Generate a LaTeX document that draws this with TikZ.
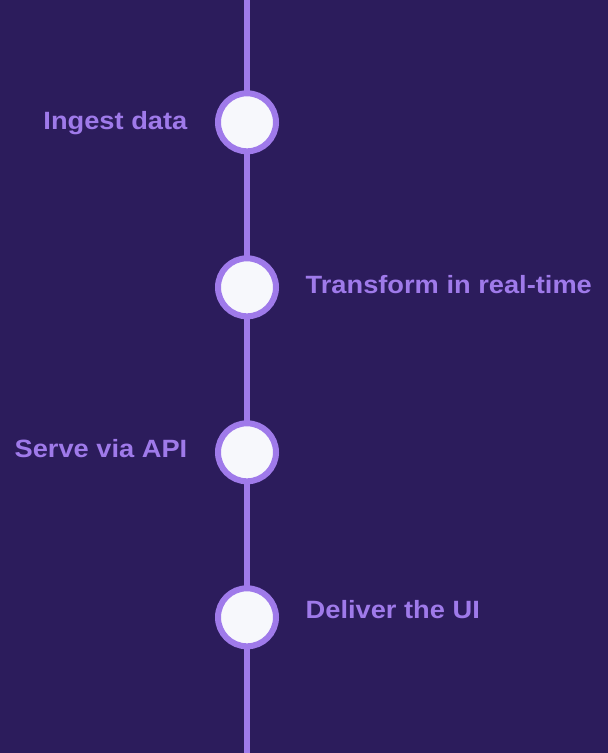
\documentclass[tikz,border=0pt]{standalone}
\usepackage{fontspec}
\setmainfont{Liberation Sans}[FakeStretch=1.09]
\definecolor{bgdark}{HTML}{2C1C5C}
\definecolor{accent}{HTML}{9F7AEA}
\definecolor{dotfill}{HTML}{F7F8FC}
\begin{document}
\begin{tikzpicture}[x=1pt,y=-1pt,
  stepdot/.style={circle,draw=accent,line width=6pt,fill=dotfill,minimum size=58pt,inner sep=0pt},
  steplabel/.style={text=accent,inner sep=0pt,font=\fontsize{25}{30}\selectfont\bfseries},
  spine/.style={draw=accent,line width=5.5pt}]
  \fill[bgdark] (0,0) rectangle (608,753);
  \useasboundingbox (0,0) rectangle (608,753);
  \coordinate (top) at (247,0);
  \coordinate (bottom) at (247,753);
  \draw[spine] (top) -- (bottom);
  \node[stepdot] (s1) at (247,122.3) {};
  \node[stepdot] (s2) at (247,287.3) {};
  \node[stepdot] (s3) at (247,452.3) {};
  \node[stepdot] (s4) at (247,617.3) {};
  \node[steplabel,anchor=base east] (l1) at (187.5,129.8) {Ingest data};
  \node[steplabel,anchor=base west] (l2) at (305.5,293.8) {Transform in real-time};
  \node[steplabel,anchor=base east] (l3) at (187.5,457.6) {Serve via API};
  \node[steplabel,anchor=base west] (l4) at (305.5,618.2) {Deliver the UI};
\end{tikzpicture}
\end{document}
